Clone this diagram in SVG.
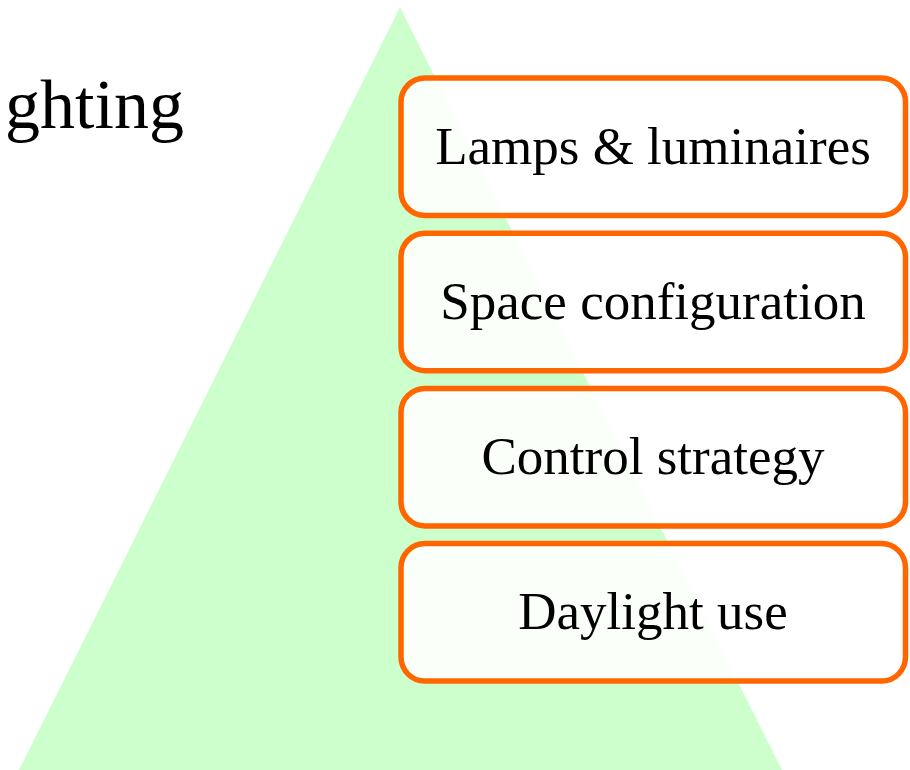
<svg xmlns="http://www.w3.org/2000/svg" width="910" height="770" viewBox="0 0 910 770">
  <style>
    .box { fill: #ffffff; fill-opacity: 0.9; stroke: #ff6600; stroke-width: 5.5; }
    .lbl { font-family: "Liberation Serif", "Times New Roman", serif; font-size: 53px; fill: #000000; text-anchor: middle; }
    .title { font-family: "Liberation Serif", "Times New Roman", serif; font-size: 70px; fill: #000000; }
  </style>
  <rect width="910" height="770" fill="#ffffff"/>
  <g id="pyramid">
    <polygon points="400,7 19,770 782,770" fill="#ccffcc"/>
  </g>
  <g id="title">
    <text class="title" x="184" y="128" text-anchor="end">ghting</text>
  </g>
  <g id="node-lamps">
    <rect class="box" x="401" y="78" width="504.5" height="137.5" rx="24"/>
    <text class="lbl" x="653" y="164">Lamps &amp; luminaires</text>
  </g>
  <g id="node-space">
    <rect class="box" x="401" y="233.2" width="504.5" height="137.5" rx="24"/>
    <text class="lbl" x="653" y="319">Space configuration</text>
  </g>
  <g id="node-control">
    <rect class="box" x="401" y="388.4" width="504.5" height="137.5" rx="24"/>
    <text class="lbl" x="653" y="474">Control strategy</text>
  </g>
  <g id="node-daylight">
    <rect class="box" x="401" y="543.6" width="504.5" height="137.5" rx="24"/>
    <text class="lbl" x="653" y="629">Daylight use</text>
  </g>
  <g id="connectors"/>
</svg>
